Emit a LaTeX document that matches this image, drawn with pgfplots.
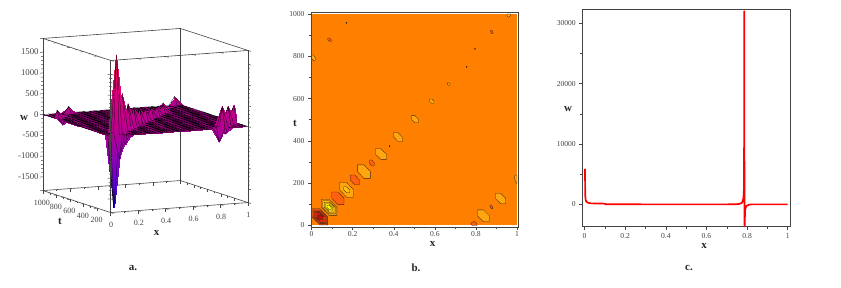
\documentclass[border=0pt]{standalone}
\usepackage{fontspec}
\setmainfont{Liberation Serif}
\usepackage{pgfplots}
\pgfplotsset{compat=1.18}
\definecolor{fr}{HTML}{444444}
\definecolor{bg}{HTML}{FF8000}
\definecolor{lt}{HTML}{FFA510}
\definecolor{dk}{HTML}{FF6010}
\pgfplotsset{
 every tick label/.append style={font=\fontsize{7.6}{9}\selectfont, text=fr},
 /pgf/number format/assume math mode=true,
 /pgf/number format/1000 sep={},
 /pgf/number format/fixed,
 tick style={fr,line width=.5pt},
 axis line style={fr,line width=.6pt},
 ct/.style={draw=black!70!brown,line width=.3pt},
}
\newcommand{\lab}[3]{\node[font=\bfseries\fontsize{11}{12}\selectfont,text=black!85] at (#1pt,{(287-#2)*1pt}) {#3};}
\begin{document}
\begin{tikzpicture}
\path[use as bounding box] (0pt,0pt) rectangle (841pt,287pt);
% ---------- a
\begin{axis}[
 anchor=origin, at={(110.7pt,150.5pt)},
 x={(137.3pt,10pt)}, y={(-0.0677pt,0.022pt)}, z={(0pt,0.04156pt)},
 xmin=0,xmax=1,ymin=0,ymax=1000,zmin=-1830,zmax=1830,
 axis lines=box, 3d box=complete, clip=false,
 xtick pos=left, ytick pos=left, ztick pos=left,
 xtick={0,0.2,0.4,0.6,0.8,1}, xticklabels={0,0.2,0.4,0.6,0.8,1},
 ytick={200,400,600,800,1000},
 ztick={-1500,-1000,-500,0,500,1000,1500},
 minor x tick num=1, minor y tick num=1, minor z tick num=4,
 tick align=outside, tickwidth=3pt, subtickwidth=1.8pt,
 xticklabel style={xshift=-7pt,yshift=-5pt,font=\fontsize{8}{9}\selectfont},
 yticklabel style={xshift=9pt,yshift=-4.5pt,font=\fontsize{8}{9}\selectfont},
 zticklabel style={xshift=2pt,yshift=-2pt,font=\fontsize{8.8}{9}\selectfont},
 colormap={wm}{rgb=(0.13,0,0.85) rgb=(0.5,0,0.8) rgb=(0.72,0,0.56) rgb=(0.88,0,0.5) rgb=(0.95,0.05,0.25)},
 point meta min=-1750, point meta max=1900,
]
\addplot3[surf, shader=faceted interp, faceted color=black, line width=.25pt, z buffer=sort, mesh/rows=25, mesh/cols=25, point meta=z] coordinates {
(0,0,0)(.042,0,0)(.083,0,0)(.125,0,0)(.167,0,0)(.208,0,0)(.25,0,0)(.292,0,0)(.333,0,0)(.375,0,0)(.417,0,0)(.458,0,0)(.5,0,0)(.542,0,0)(.583,0,0)(.625,0,0)(.667,0,0)(.708,0,0)(.75,0,0)(.792,0,-320)(.833,0,0)(.875,0,0)(.917,0,0)(.958,0,0)(1,0,0)
(0,42,0)(.042,42,-1750)(.083,42,0)(.125,42,0)(.167,42,0)(.208,42,0)(.25,42,0)(.292,42,0)(.333,42,0)(.375,42,0)(.417,42,0)(.458,42,0)(.5,42,0)(.542,42,0)(.583,42,0)(.625,42,0)(.667,42,0)(.708,42,0)(.75,42,0)(.792,42,0)(.833,42,500)(.875,42,0)(.917,42,0)(.958,42,0)(1,42,0)
(0,83,0)(.042,83,0)(.083,83,1900)(.125,83,0)(.167,83,0)(.208,83,0)(.25,83,0)(.292,83,0)(.333,83,0)(.375,83,0)(.417,83,0)(.458,83,0)(.5,83,0)(.542,83,0)(.583,83,0)(.625,83,0)(.667,83,0)(.708,83,0)(.75,83,0)(.792,83,0)(.833,83,0)(.875,83,-190)(.917,83,0)(.958,83,0)(1,83,0)
(0,125,0)(.042,125,0)(.083,125,0)(.125,125,-640)(.167,125,0)(.208,125,0)(.25,125,0)(.292,125,0)(.333,125,0)(.375,125,0)(.417,125,0)(.458,125,0)(.5,125,0)(.542,125,0)(.583,125,0)(.625,125,0)(.667,125,0)(.708,125,0)(.75,125,0)(.792,125,0)(.833,125,0)(.875,125,0)(.917,125,440)(.958,125,0)(1,125,0)
(0,167,0)(.042,167,0)(.083,167,0)(.125,167,0)(.167,167,895)(.208,167,0)(.25,167,0)(.292,167,0)(.333,167,0)(.375,167,0)(.417,167,0)(.458,167,0)(.5,167,0)(.542,167,0)(.583,167,0)(.625,167,0)(.667,167,0)(.708,167,0)(.75,167,0)(.792,167,0)(.833,167,0)(.875,167,0)(.917,167,0)(.958,167,0)(1,167,0)
(0,208,0)(.042,208,0)(.083,208,0)(.125,208,0)(.167,208,0)(.208,208,-355)(.25,208,0)(.292,208,0)(.333,208,0)(.375,208,0)(.417,208,0)(.458,208,0)(.5,208,0)(.542,208,0)(.583,208,0)(.625,208,0)(.667,208,0)(.708,208,0)(.75,208,0)(.792,208,0)(.833,208,0)(.875,208,0)(.917,208,0)(.958,208,0)(1,208,400)
(0,250,0)(.042,250,0)(.083,250,0)(.125,250,0)(.167,250,0)(.208,250,0)(.25,250,590)(.292,250,0)(.333,250,0)(.375,250,0)(.417,250,0)(.458,250,0)(.5,250,0)(.542,250,0)(.583,250,0)(.625,250,0)(.667,250,0)(.708,250,0)(.75,250,0)(.792,250,0)(.833,250,0)(.875,250,0)(.917,250,0)(.958,250,0)(1,250,0)
(0,292,0)(.042,292,0)(.083,292,0)(.125,292,0)(.167,292,0)(.208,292,0)(.25,292,0)(.292,292,-230)(.333,292,0)(.375,292,0)(.417,292,0)(.458,292,0)(.5,292,0)(.542,292,0)(.583,292,0)(.625,292,0)(.667,292,0)(.708,292,0)(.75,292,0)(.792,292,0)(.833,292,0)(.875,292,0)(.917,292,0)(.958,292,0)(1,292,0)
(0,333,0)(.042,333,0)(.083,333,0)(.125,333,0)(.167,333,0)(.208,333,0)(.25,333,0)(.292,333,0)(.333,333,435)(.375,333,0)(.417,333,0)(.458,333,0)(.5,333,0)(.542,333,0)(.583,333,0)(.625,333,0)(.667,333,0)(.708,333,0)(.75,333,0)(.792,333,0)(.833,333,0)(.875,333,0)(.917,333,0)(.958,333,0)(1,333,0)
(0,375,0)(.042,375,0)(.083,375,0)(.125,375,0)(.167,375,0)(.208,375,0)(.25,375,0)(.292,375,0)(.333,375,0)(.375,375,-165)(.417,375,0)(.458,375,0)(.5,375,0)(.542,375,0)(.583,375,0)(.625,375,0)(.667,375,0)(.708,375,0)(.75,375,0)(.792,375,0)(.833,375,0)(.875,375,0)(.917,375,0)(.958,375,0)(1,375,0)
(0,417,0)(.042,417,0)(.083,417,0)(.125,417,0)(.167,417,0)(.208,417,0)(.25,417,0)(.292,417,0)(.333,417,0)(.375,417,0)(.417,417,350)(.458,417,0)(.5,417,0)(.542,417,0)(.583,417,0)(.625,417,0)(.667,417,0)(.708,417,0)(.75,417,0)(.792,417,0)(.833,417,0)(.875,417,0)(.917,417,0)(.958,417,0)(1,417,0)
(0,458,0)(.042,458,0)(.083,458,0)(.125,458,0)(.167,458,0)(.208,458,0)(.25,458,0)(.292,458,0)(.333,458,0)(.375,458,0)(.417,458,0)(.458,458,0)(.5,458,0)(.542,458,0)(.583,458,0)(.625,458,0)(.667,458,0)(.708,458,0)(.75,458,0)(.792,458,0)(.833,458,0)(.875,458,0)(.917,458,0)(.958,458,0)(1,458,0)
(0,500,0)(.042,500,0)(.083,500,0)(.125,500,0)(.167,500,0)(.208,500,0)(.25,500,0)(.292,500,0)(.333,500,0)(.375,500,0)(.417,500,0)(.458,500,0)(.5,500,280)(.542,500,0)(.583,500,0)(.625,500,0)(.667,500,0)(.708,500,0)(.75,500,0)(.792,500,0)(.833,500,0)(.875,500,0)(.917,500,0)(.958,500,0)(1,500,0)
(0,542,0)(.042,542,0)(.083,542,0)(.125,542,0)(.167,542,0)(.208,542,0)(.25,542,0)(.292,542,0)(.333,542,0)(.375,542,0)(.417,542,0)(.458,542,0)(.5,542,0)(.542,542,0)(.583,542,0)(.625,542,0)(.667,542,0)(.708,542,0)(.75,542,0)(.792,542,0)(.833,542,0)(.875,542,0)(.917,542,0)(.958,542,0)(1,542,0)
(0,583,0)(.042,583,0)(.083,583,0)(.125,583,0)(.167,583,0)(.208,583,0)(.25,583,0)(.292,583,0)(.333,583,0)(.375,583,0)(.417,583,0)(.458,583,0)(.5,583,0)(.542,583,0)(.583,583,235)(.625,583,0)(.667,583,0)(.708,583,0)(.75,583,0)(.792,583,0)(.833,583,0)(.875,583,0)(.917,583,0)(.958,583,0)(1,583,0)
(0,625,0)(.042,625,0)(.083,625,0)(.125,625,0)(.167,625,0)(.208,625,0)(.25,625,0)(.292,625,0)(.333,625,0)(.375,625,0)(.417,625,0)(.458,625,0)(.5,625,0)(.542,625,0)(.583,625,0)(.625,625,0)(.667,625,0)(.708,625,0)(.75,625,0)(.792,625,0)(.833,625,0)(.875,625,0)(.917,625,0)(.958,625,0)(1,625,0)
(0,667,0)(.042,667,0)(.083,667,0)(.125,667,0)(.167,667,0)(.208,667,0)(.25,667,0)(.292,667,0)(.333,667,0)(.375,667,0)(.417,667,0)(.458,667,0)(.5,667,0)(.542,667,0)(.583,667,0)(.625,667,0)(.667,667,190)(.708,667,0)(.75,667,0)(.792,667,0)(.833,667,0)(.875,667,0)(.917,667,0)(.958,667,0)(1,667,0)
(0,708,0)(.042,708,0)(.083,708,0)(.125,708,0)(.167,708,0)(.208,708,0)(.25,708,0)(.292,708,0)(.333,708,0)(.375,708,0)(.417,708,0)(.458,708,0)(.5,708,0)(.542,708,0)(.583,708,0)(.625,708,0)(.667,708,0)(.708,708,0)(.75,708,0)(.792,708,0)(.833,708,0)(.875,708,0)(.917,708,0)(.958,708,0)(1,708,0)
(0,750,0)(.042,750,0)(.083,750,0)(.125,750,0)(.167,750,0)(.208,750,0)(.25,750,0)(.292,750,0)(.333,750,0)(.375,750,0)(.417,750,0)(.458,750,0)(.5,750,0)(.542,750,0)(.583,750,0)(.625,750,0)(.667,750,0)(.708,750,0)(.75,750,165)(.792,750,0)(.833,750,0)(.875,750,0)(.917,750,0)(.958,750,0)(1,750,0)
(0,792,210)(.042,792,0)(.083,792,0)(.125,792,0)(.167,792,0)(.208,792,0)(.25,792,0)(.292,792,0)(.333,792,0)(.375,792,0)(.417,792,0)(.458,792,0)(.5,792,0)(.542,792,0)(.583,792,0)(.625,792,0)(.667,792,0)(.708,792,0)(.75,792,0)(.792,792,0)(.833,792,0)(.875,792,0)(.917,792,0)(.958,792,0)(1,792,0)
(0,833,0)(.042,833,0)(.083,833,0)(.125,833,0)(.167,833,0)(.208,833,0)(.25,833,0)(.292,833,0)(.333,833,0)(.375,833,0)(.417,833,0)(.458,833,0)(.5,833,0)(.542,833,0)(.583,833,0)(.625,833,0)(.667,833,0)(.708,833,0)(.75,833,0)(.792,833,165)(.833,833,0)(.875,833,0)(.917,833,0)(.958,833,0)(1,833,0)
(0,875,0)(.042,875,0)(.083,875,-200)(.125,875,0)(.167,875,0)(.208,875,0)(.25,875,0)(.292,875,0)(.333,875,0)(.375,875,0)(.417,875,0)(.458,875,0)(.5,875,0)(.542,875,0)(.583,875,0)(.625,875,0)(.667,875,0)(.708,875,0)(.75,875,0)(.792,875,0)(.833,875,0)(.875,875,0)(.917,875,0)(.958,875,0)(1,875,0)
(0,917,0)(.042,917,0)(.083,917,0)(.125,917,0)(.167,917,0)(.208,917,0)(.25,917,0)(.292,917,0)(.333,917,0)(.375,917,0)(.417,917,0)(.458,917,0)(.5,917,0)(.542,917,0)(.583,917,0)(.625,917,0)(.667,917,0)(.708,917,0)(.75,917,0)(.792,917,0)(.833,917,0)(.875,917,-190)(.917,917,0)(.958,917,0)(1,917,0)
(0,958,0)(.042,958,0)(.083,958,0)(.125,958,0)(.167,958,170)(.208,958,0)(.25,958,0)(.292,958,0)(.333,958,0)(.375,958,0)(.417,958,0)(.458,958,0)(.5,958,0)(.542,958,0)(.583,958,0)(.625,958,0)(.667,958,0)(.708,958,0)(.75,958,0)(.792,958,0)(.833,958,0)(.875,958,0)(.917,958,0)(.958,958,0)(1,958,0)
(0,1000,0)(.042,1000,0)(.083,1000,0)(.125,1000,0)(.167,1000,0)(.208,1000,0)(.25,1000,0)(.292,1000,0)(.333,1000,0)(.375,1000,0)(.417,1000,0)(.458,1000,0)(.5,1000,0)(.542,1000,0)(.583,1000,0)(.625,1000,0)(.667,1000,0)(.708,1000,0)(.75,1000,0)(.792,1000,0)(.833,1000,0)(.875,1000,0)(.917,1000,0)(.958,1000,200)(1,1000,0)
};
\end{axis}
% ---------- b
\begin{axis}[
 anchor=south west, at={(311pt,60pt)}, scale only axis, width=207.7pt, height=214.7pt,
 xmin=-0.003,xmax=1.008,ymin=-8,ymax=1008,
 axis on top, tick align=outside, tickwidth=3pt, subtickwidth=2pt,
 xtick pos=bottom, ytick pos=left,
 xticklabel style={yshift=2.5pt},
 xtick={0,0.2,0.4,0.6,0.8,1}, xticklabels={0,0.2,0.4,0.6,0.8,1},
 ytick={0,200,400,600,800,1000}, minor x tick num=1, minor y tick num=1,
]
\addplot[fill=bg,draw=none] coordinates {(0,0)(1,0)(1,1000)(0,1000)} --cycle;
% contour 1: lowest peak
\addplot[ct,fill={rgb,255:red,240;green,90;blue,16}] coordinates {(.002,78)(.04,78)(.078,40)(.078,2)(.04,2)(.002,40)} --cycle;
\addplot[ct,fill={rgb,255:red,240;green,70;blue,16}] coordinates {(.008,72)(.04,72)(.072,40)(.072,8)(.04,8)(.008,40)} --cycle;
\addplot[ct,fill={rgb,255:red,240;green,55;blue,16}] coordinates {(.014,66)(.04,66)(.066,40)(.066,14)(.04,14)(.014,40)} --cycle;
\addplot[ct,fill={rgb,255:red,240;green,40;blue,16}] coordinates {(.02,60)(.04,60)(.06,40)(.06,20)(.04,20)(.02,40)} --cycle;
\addplot[ct,fill={rgb,255:red,240;green,20;blue,16}] coordinates {(.026,54)(.04,54)(.054,40)(.054,26)(.04,26)(.026,40)} --cycle;
\addplot[ct,fill={rgb,255:red,240;green,0;blue,0}] coordinates {(.032,48)(.04,48)(.048,40)(.048,32)(.04,32)(.032,40)} --cycle;
% contour 2: highest peak
\addplot[ct,fill=lt] coordinates {(.047,123)(.085,123)(.123,85)(.123,47)(.085,47)(.047,85)} --cycle;
\addplot[ct,fill={rgb,255:red,255;green,185;blue,16}] coordinates {(.054,116)(.085,116)(.116,85)(.116,54)(.085,54)(.054,85)} --cycle;
\addplot[ct,fill={rgb,255:red,255;green,210;blue,16}] coordinates {(.061,109)(.085,109)(.109,85)(.109,61)(.085,61)(.061,85)} --cycle;
\addplot[ct,fill={rgb,255:red,255;green,232;blue,16}] coordinates {(.068,102)(.085,102)(.102,85)(.102,68)(.085,68)(.068,85)} --cycle;
\addplot[ct,fill={rgb,255:red,255;green,255;blue,0}] coordinates {(.075,95)(.085,95)(.095,85)(.095,75)(.085,75)(.075,85)} --cycle;
% diagonal
\addplot[ct,fill=dk] coordinates {(.098,158)(.128,158)(.158,128)(.158,98)(.128,98)(.098,128)} --cycle;
\addplot[ct,fill=lt] coordinates {(.136,203)(.17,203)(.204,168)(.204,133)(.17,133)(.136,168)} --cycle;
\addplot[ct,fill={rgb,255:red,255;green,195;blue,16}] coordinates {(.156,182)(.17,182)(.184,168)(.184,154)(.17,154)(.156,168)} --cycle;
\addplot[ct,fill=dk] coordinates {(.188,238)(.21,238)(.232,215)(.232,192)(.21,192)(.188,215)} --cycle;
\addplot[ct,fill=lt] coordinates {(.224,286)(.255,286)(.286,254)(.286,222)(.255,222)(.224,254)} --cycle;
\addplot[ct,fill=dk] coordinates {(.281,309)(.293,309)(.305,295)(.305,281)(.293,281)(.281,295)} --cycle;
\addplot[ct,fill=lt] coordinates {(.31,362)(.337,362)(.364,337)(.364,312)(.337,312)(.31,337)} --cycle;
\addplot[ct,fill=lt] coordinates {(.399,439)(.42,439)(.441,418)(.441,397)(.42,397)(.399,418)} --cycle;
\addplot[ct,fill=lt] coordinates {(.486,519)(.503,519)(.52,502)(.52,485)(.503,485)(.486,502)} --cycle;
\addplot[ct,fill=lt] coordinates {(.574,598)(.585,598)(.596,587)(.596,576)(.585,576)(.574,587)} --cycle;
\addplot[ct,fill=lt] coordinates {(.662,675)(.668,675)(.674,667)(.674,659)(.668,659)(.662,667)} --cycle;
\addplot[ct,fill=dk] coordinates {(.871,923)(.877,923)(.883,915)(.883,907)(.877,907)(.871,915)} --cycle;
\addplot[ct,fill=dk] coordinates {(.079,886)(.087,886)(.095,878)(.095,870)(.087,870)(.079,878)} --cycle;
\addplot[ct,fill=lt] coordinates {(.951,1000)(.969,1000)(.969,992)(.96,985)(.952,988)} --cycle;
\addplot[ct,fill=lt] coordinates {(0,806)(.008,806)(.018,793)(.018,780)(.008,779)(0,790)} --cycle;
\addplot[ct,fill=lt] coordinates {(.99,238)(1,238)(1,198)(.995,200)(.987,222)} --cycle;
% second band
\addplot[ct,fill=lt] coordinates {(.895,152)(.92,152)(.945,127)(.945,102)(.92,102)(.895,127)} --cycle;
\addplot[ct,fill=dk] coordinates {(.869,96)(.875,96)(.881,87)(.881,78)(.875,78)(.869,87)} --cycle;
\addplot[ct,fill=lt] coordinates {(.807,73)(.836,73)(.865,45)(.865,17)(.836,17)(.807,45)} --cycle;
\addplot[ct,fill=dk] coordinates {(.775,10)(.79,18)(.8,14)(.806,0)(.78,0)} --cycle;
\addplot[only marks,mark=*,mark size=.45pt,mark options={draw=none,fill=black!30!bg}] coordinates {(.17,958)(.755,750)(.795,835)(.38,375)};
\end{axis}
% ---------- c
\begin{axis}[
 anchor=south west, at={(582.3pt,60.3pt)}, scale only axis, width=208pt, height=217.4pt,
 xmin=-0.0113,xmax=1.0127,ymin=-3700,ymax=32320,
 tick align=outside, tickwidth=3pt, subtickwidth=2pt,
 xtick pos=bottom, ytick pos=left,
 xtick={0,0.2,0.4,0.6,0.8,1}, xticklabels={0,0.2,0.4,0.6,0.8,1},
 ytick={0,10000,20000,30000}, minor x tick num=1, minor y tick num=1,
 scaled y ticks=false,
]
\addplot[red,line width=1.7pt,line join=round] coordinates {(0.002,5900)(0.003,1500)(.005,800)(.008,500)(.012,350)(.02,250)(.03,170)(.1,120)(.102,30)(.3,0)(.7,0)(.74,20)(.76,60)(.775,250)(.782,1000)(.785,3000)(.786,32000)(.787,-3500)(.788,-3500)(.79,-1000)(.795,-300)(.81,-50)(.82,0)(1,0)};
\end{axis}
\lab{24}{117.7}{w}
\lab{60}{221.7}{t}
\lab{156.7}{232.7}{x}
\lab{133}{268}{a.}
\lab{295}{123}{t}
\lab{432.7}{244}{x}
\lab{416}{268}{b.}
\lab{568}{109}{w}
\lab{704}{246}{x}
\lab{689}{268}{c.}
\end{tikzpicture}
\end{document}
